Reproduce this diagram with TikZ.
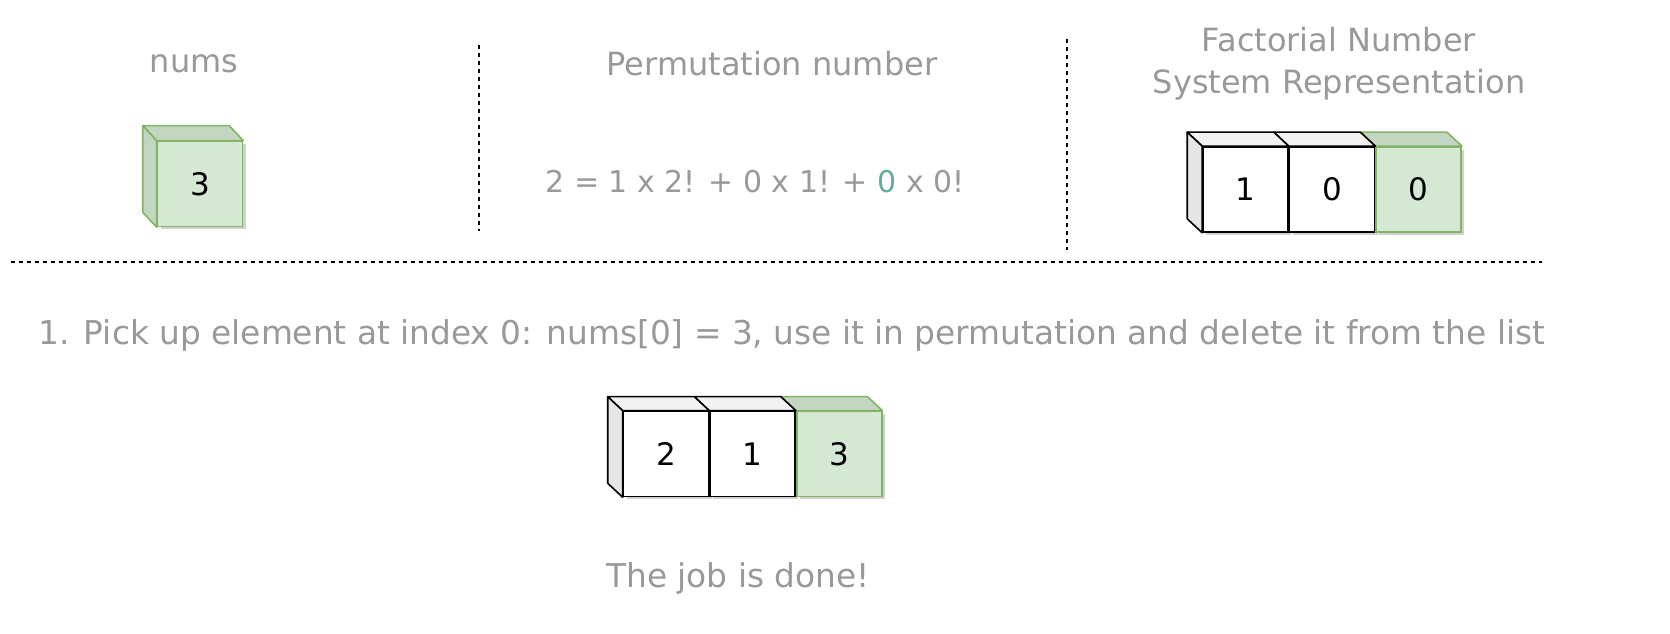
\documentclass[tikz,border=0pt]{standalone}
\usepackage{fontspec}
\setmainfont{DejaVu Sans}
\usetikzlibrary{positioning, shadows}
\definecolor{textgray}{HTML}{999999}
\definecolor{cellgreen}{HTML}{D5E8D4}
\definecolor{greenedge}{HTML}{82B366}
\definecolor{greendark}{HTML}{C2D6C1}
\definecolor{sidegray}{HTML}{E6E6E6}
\definecolor{topgray}{HTML}{F2F2F2}
\definecolor{zerogreen}{HTML}{67AB9F}

\begin{document}
\begin{tikzpicture}[x=1pt, y=1pt,
    heading/.style={text=textgray, font=\fontsize{32}{42}\selectfont, align=center},
    caption/.style={text=textgray, font=\fontsize{32.8}{38}\selectfont},
    cell/.style={draw, line width=1.6pt, fill=white, minimum width=85pt, minimum height=85pt,
        inner sep=0pt, font=\fontsize{31}{36}\selectfont,
        drop shadow={shadow xshift=3pt, shadow yshift=-3pt, opacity=0.18, fill=black}},
    greencell/.style={cell, draw=greenedge, fill=cellgreen},
    face/.style={draw, line width=1.6pt, line join=round},
    divider/.style={line width=1.3pt, dash pattern=on 4pt off 4pt}
]
\useasboundingbox (0,0) rectangle (1670,634);

\node[heading] (numsTitle) at (194,570) {nums};
\node[heading] (permTitle) at (772,570) {Permutation number};
\node[heading] (fnsTitle) at (1339,570) {Factorial Number\\System Representation};

\coordinate (v1a) at (479,589);
\coordinate (v1b) at (479,403);
\coordinate (v2a) at (1067,595);
\coordinate (v2b) at (1067,384);
\coordinate (h1a) at (11,372);
\coordinate (h1b) at (1542,372);
\draw[divider] (v1a) -- (v1b);
\draw[divider] (v2a) -- (v2b);
\draw[divider] (h1a) -- (h1b);

\node[greencell] (nums1) at (200,450) {3};
\draw[face, draw=greenedge, fill=greendark] (nums1.north west) -- ++(-14,15) -- ([shift={(-14,15)}]nums1.north east) -- (nums1.north east) -- cycle;
\draw[face, draw=greenedge, fill=greendark] (nums1.north west) -- ++(-14,15) -- ([shift={(-14,15)}]nums1.south west) -- (nums1.south west) -- cycle;

\node[caption, font=\fontsize{30}{36}\selectfont] (formula) at (755,452) {2 = 1 x 2! + 0 x 1! + \textcolor{zerogreen}{0} x 0!};

\node[cell] (fns1) at (1245.5,444.5) {1};
\node[cell, right=0pt of fns1] (fns2) {0};
\node[greencell, right=0pt of fns2] (fns3) {0};
\draw[face, draw=greenedge, fill=greendark] (fns3.north west) -- ++(-15,14) -- ([shift={(-15,14)}]fns3.north east) -- (fns3.north east) -- cycle;
\draw[face, fill=topgray] (fns2.north west) -- ++(-15,14) -- ([shift={(-15,14)}]fns2.north east) -- (fns2.north east) -- cycle;
\draw[face, fill=topgray] (fns1.north west) -- ++(-15,14) -- ([shift={(-15,14)}]fns1.north east) -- (fns1.north east) -- cycle;
\draw[face, fill=sidegray] (fns1.north west) -- ++(-15,14) -- ([shift={(-15,14)}]fns1.south west) -- (fns1.south west) -- cycle;

\node[caption] (step1) at (792,299) {1. Pick up element at index 0: nums[0] = 3, use it in permutation and delete it from the list};

\node[cell] (perm1) at (666,180) {2};
\node[cell, right=0pt of perm1] (perm2) {1};
\node[greencell, right=0pt of perm2] (perm3) {3};
\draw[face, draw=greenedge, fill=greendark] (perm3.north west) -- ++(-15,14) -- ([shift={(-15,14)}]perm3.north east) -- (perm3.north east) -- cycle;
\draw[face, fill=topgray] (perm2.north west) -- ++(-15,14) -- ([shift={(-15,14)}]perm2.north east) -- (perm2.north east) -- cycle;
\draw[face, fill=topgray] (perm1.north west) -- ++(-15,14) -- ([shift={(-15,14)}]perm1.north east) -- (perm1.north east) -- cycle;
\draw[face, fill=sidegray] (perm1.north west) -- ++(-15,14) -- ([shift={(-15,14)}]perm1.south west) -- (perm1.south west) -- cycle;

\node[caption] (done) at (738,56) {The job is done!};
\end{tikzpicture}
\end{document}
